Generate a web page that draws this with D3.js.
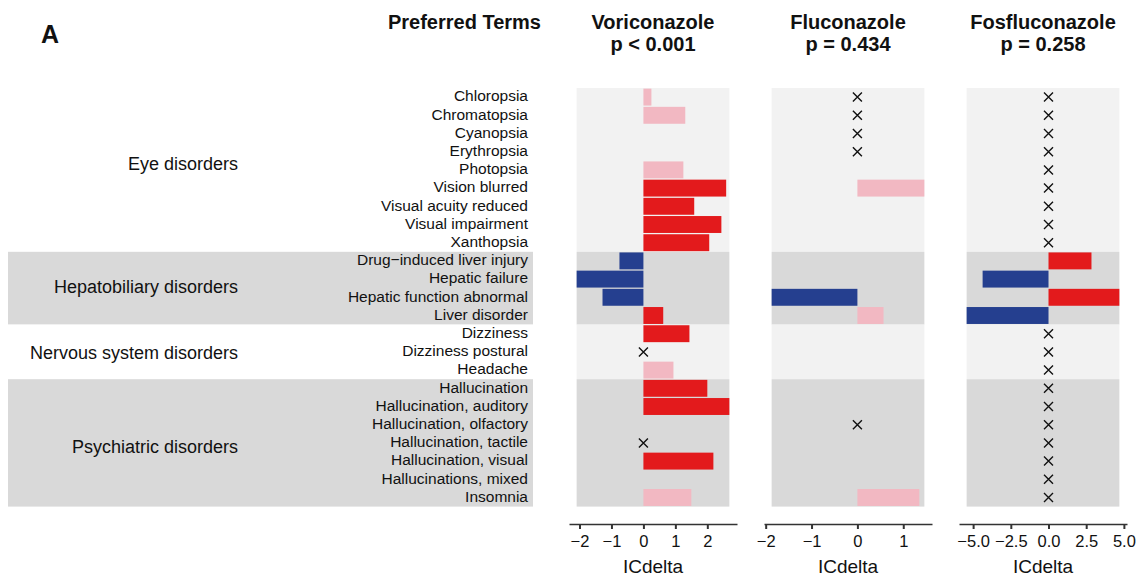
<!DOCTYPE html>
<html>
<head>
<meta charset="utf-8">
<script src="https://cdn.jsdelivr.net/npm/d3@7"></script>
<style>
body { margin: 0; background: #fff; }
svg text { font-family: "Liberation Sans", Arial, Helvetica, sans-serif; fill: #111; }
</style>
</head>
<body>
<script>
// System organ classes and their preferred terms
var groups = ["Eye disorders", "Hepatobiliary disorders", "Nervous system disorders", "Psychiatric disorders"];
var groupTerms = [
    ["Chloropsia", "Chromatopsia", "Cyanopsia", "Erythropsia", "Photopsia", "Vision blurred",
     "Visual acuity reduced", "Visual impairment", "Xanthopsia"],
    ["Drug\u2212induced liver injury", "Hepatic failure", "Hepatic function abnormal", "Liver disorder"],
    ["Dizziness", "Dizziness postural", "Headache"],
    ["Hallucination", "Hallucination, auditory", "Hallucination, olfactory", "Hallucination, tactile",
     "Hallucination, visual", "Hallucinations, mixed", "Insomnia"]
];

var drugs = ["Voriconazole", "Fluconazole", "Fosfluconazole"];
var pLabels = ["p < 0.001", "p = 0.434", "p = 0.258"];

// ICdelta per term (term order above); null = nothing drawn
// status: "sig" = significant, "ns" = not significant, "x" = not calculable, "" = none
var voriValues = [0.25, 1.31, null, null, 1.25, 2.59, 1.59, 2.44, 2.06,
                  -0.75, -2.09, -1.28, 0.62,
                  1.44, 0, 0.94,
                  2.0, 2.69, null, 0, 2.19, null, 1.5];
var voriStatus = ["ns", "ns", "", "", "ns", "sig", "sig", "sig", "sig",
                  "sig", "sig", "sig", "sig",
                  "sig", "x", "ns",
                  "sig", "sig", "", "x", "sig", "", "ns"];

var flucoValues = [0, 0, 0, 0, null, 1.46, null, null, null,
                   null, null, -1.87, 0.57,
                   null, null, null,
                   null, null, 0, null, null, null, 1.35];
var flucoStatus = ["x", "x", "x", "x", "", "ns", "", "", "",
                   "", "", "sig", "ns",
                   "", "", "",
                   "", "", "x", "", "", "", "ns"];

var fosValues = [0, 0, 0, 0, 0, 0, 0, 0, 0,
                 2.85, -4.37, 4.7, -5.43,
                 0, 0, 0,
                 0, 0, 0, 0, 0, 0, 0];
var fosStatus = ["x", "x", "x", "x", "x", "x", "x", "x", "x",
                 "sig", "sig", "sig", "sig",
                 "x", "x", "x",
                 "x", "x", "x", "x", "x", "x", "x"];

var tickSets = [[-2, -1, 0, 1, 2], [-2, -1, 0, 1], [-5, -2.5, 0, 2.5, 5]];
var tickFormats = ["d", "d", ".1f"];

var allValues = [voriValues, flucoValues, fosValues];
var allStatus = [voriStatus, flucoStatus, fosStatus];

var terms = [].concat.apply([], groupTerms);

// Layout
var width = 1137, height = 576;
var rowTop = 88, rowBottom = 506.6;
var panelLeft = [569, 764, 959], panelWidth = 168;
var axisY = 524;

var svg = d3.select("body").append("svg")
    .attr("width", width)
    .attr("height", height);

// Rows
var rowScale = d3.scaleBand()
    .domain(terms)
    .range([rowTop, rowBottom]);

// Group label positions follow the mean row index
var groupLabelY = d3.scaleLinear().domain([1, terms.length]).range([88.2, 503.5]);

function groupStart(g) { return rowScale(groupTerms[g][0]); }
function groupEnd(g) { var t = groupTerms[g]; return rowScale(t[t.length - 1]) + rowScale.bandwidth(); }

function barColor(v, s) {
    if (s === "sig") return v > 0 ? "#e31a1c" : "#253f8f";
    return v > 0 ? "#f2b8c2" : "#a9b8e0";
}

// Left label area shading
svg.append("g").selectAll("rect")
    .data(groups)
    .enter().append("rect")
    .attr("x", 8)
    .attr("width", 525)
    .attr("y", function (d, i) { return groupStart(i); })
    .attr("height", function (d, i) { return groupEnd(i) - groupStart(i); })
    .attr("fill", function (d, i) { return i % 2 ? "#d9d9d9" : "#ffffff"; });

// Group labels
var termIndex = 0;
var groupMeans = groupTerms.map(function (t) {
    var m = termIndex + (t.length + 1) / 2;
    termIndex += t.length;
    return m;
});
svg.append("g").selectAll("text")
    .data(groups)
    .enter().append("text")
    .attr("x", 238)
    .attr("y", function (d, i) { return groupLabelY(groupMeans[i]); })
    .attr("dy", "0.35em")
    .attr("text-anchor", "end")
    .style("font-size", "18px")
    .text(function (d) { return d; });

// Term labels
svg.append("g").selectAll("text")
    .data(terms)
    .enter().append("text")
    .attr("x", 528)
    .attr("y", function (d) { return rowScale(d) + rowScale.bandwidth() / 2; })
    .attr("dy", "0.28em")
    .attr("text-anchor", "end")
    .style("font-size", "15.5px")
    .text(function (d) { return d; });

// Header
svg.append("text")
    .attr("x", 41).attr("y", 43)
    .style("font-size", "25px").style("font-weight", "bold")
    .text("A");
svg.append("text")
    .attr("x", 541).attr("y", 29)
    .attr("text-anchor", "end")
    .style("font-size", "20px").style("font-weight", "bold")
    .text("Preferred Terms");

// Drug panels
drugs.forEach(function (drug, p) {
    var values = allValues[p], status = allStatus[p];
    var rows = terms.map(function (t, i) { return { term: t, value: values[i], status: status[i] }; });
    var barRows = rows.filter(function (d) { return d.status === "sig" || d.status === "ns"; });
    var extent = d3.extent(barRows, function (d) { return d.value; });
    var pad = (extent[1] - extent[0]) * 0.05;

    var x = d3.scaleLinear()
        .domain([extent[0] - pad, extent[1] + pad])
        .range([panelLeft[p], panelLeft[p] + panelWidth]);

    var g = svg.append("g").attr("class", "panel");

    // Group shading across the data range
    g.selectAll("rect.bg")
        .data(groups)
        .enter().append("rect")
        .attr("class", "bg")
        .attr("x", x(extent[0]))
        .attr("width", x(extent[1]) - x(extent[0]))
        .attr("y", function (d, i) { return groupStart(i); })
        .attr("height", function (d, i) { return groupEnd(i) - groupStart(i); })
        .attr("fill", function (d, i) { return i % 2 ? "#d9d9d9" : "#f2f2f2"; });

    // Bars
    g.selectAll("rect.bar")
        .data(barRows)
        .enter().append("rect")
        .attr("class", "bar")
        .attr("x", function (d) { return x(Math.min(0, d.value)); })
        .attr("width", function (d) { return Math.abs(x(d.value) - x(0)); })
        .attr("y", function (d) { return rowScale(d.term) + rowScale.bandwidth() * 0.035; })
        .attr("height", rowScale.bandwidth() * 0.93)
        .attr("fill", function (d) { return barColor(d.value, d.status); });

    // Crosses
    g.selectAll("path.cross")
        .data(rows.filter(function (d) { return d.status === "x"; }))
        .enter().append("path")
        .attr("class", "cross")
        .attr("d", function (d) {
            var cx = x(d.value), cy = rowScale(d.term) + rowScale.bandwidth() / 2, r = 4.5;
            return "M" + (cx - r) + "," + (cy - r) + "L" + (cx + r) + "," + (cy + r) +
                   "M" + (cx - r) + "," + (cy + r) + "L" + (cx + r) + "," + (cy - r);
        })
        .attr("stroke", "#111")
        .attr("stroke-width", 1.4)
        .attr("fill", "none");

    // Axis
    var axis = g.append("g")
        .attr("transform", "translate(0," + axisY + ")")
        .call(d3.axisBottom(x)
            .tickValues(tickSets[p])
            .tickFormat(d3.format(tickFormats[p]))
            .tickSizeInner(5)
            .tickSizeOuter(0)
            .tickPadding(6));
    axis.select(".domain").attr("stroke", "#333").attr("stroke-width", 1.5);
    axis.selectAll(".tick line").attr("stroke", "#333").attr("stroke-width", 2);
    axis.selectAll(".tick text")
        .style("font-size", "16.5px")
        .style("font-family", "\"Liberation Sans\", Arial, sans-serif")
        .attr("fill", "#222");

    var cx = panelLeft[p] + panelWidth / 2;
    g.append("text")
        .attr("x", cx).attr("y", 573)
        .attr("text-anchor", "middle")
        .style("font-size", "19px")
        .text("ICdelta");

    g.append("text")
        .attr("x", cx).attr("y", 29)
        .attr("text-anchor", "middle")
        .style("font-size", "20px").style("font-weight", "bold")
        .text(drug);
    g.append("text")
        .attr("x", cx).attr("y", 51)
        .attr("text-anchor", "middle")
        .style("font-size", "20px").style("font-weight", "bold")
        .text(pLabels[p]);
});
</script>
</body>
</html>
